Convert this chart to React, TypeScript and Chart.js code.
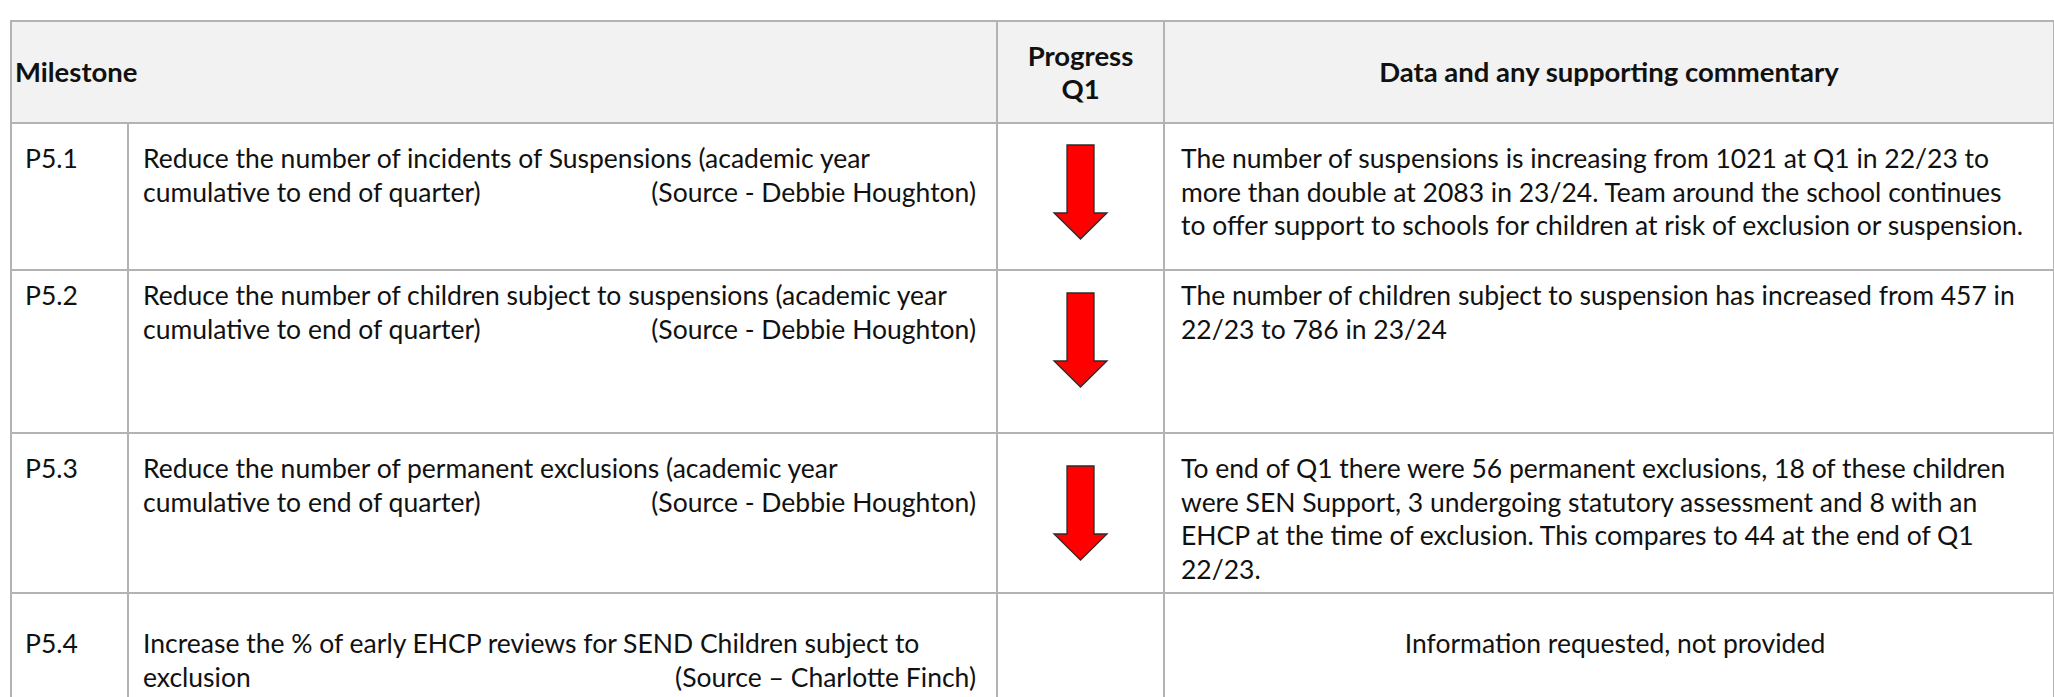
import React, { useEffect, useRef } from "react";
import { Chart, registerables } from "chart.js";

Chart.register(...registerables);

// ---- Data ----
const headerMilestone = "Milestone";
const headerProgress = ["Progress", "Q1"];
const headerCommentary = "Data and any supporting commentary";

const milestoneIds = ["P5.1", "P5.2", "P5.3", "P5.4"];
const milestoneLine1 = [
  "Reduce the number of incidents of Suspensions (academic year",
  "Reduce the number of children subject to suspensions (academic year",
  "Reduce the number of permanent exclusions (academic year",
  "Increase the % of early EHCP reviews for SEND Children subject to",
];
const milestoneLine2 = [
  "cumulative to end of quarter)",
  "cumulative to end of quarter)",
  "cumulative to end of quarter)",
  "exclusion",
];
const milestoneSources = [
  "(Source - Debbie Houghton)",
  "(Source - Debbie Houghton)",
  "(Source - Debbie Houghton)",
  "(Source \u2013 Charlotte Finch)",
];
// Progress direction for Q1: -1 = worsening (red down arrow), null = no rating
const progressQ1: (number | null)[] = [-1, -1, -1, null];

const commentary: string[][] = [
  [
    "The number of suspensions is increasing from 1021 at Q1 in 22/23 to",
    "more than double at 2083 in 23/24. Team around the school continues",
    "to offer support to schools for children at risk of exclusion or suspension.",
  ],
  [
    "The number of children subject to suspension has increased from 457 in",
    "22/23 to 786 in 23/24",
  ],
  [
    "To end of Q1 there were 56 permanent exclusions, 18 of these children",
    "were SEN Support, 3 undergoing statutory assessment and 8 with an",
    "EHCP at the time of exclusion. This compares to 44 at the end of Q1",
    "22/23.",
  ],
  ["Information requested, not provided"],
];
const commentaryAlign = ["left", "left", "left", "center"];

// ---- Styles ----
const FONT = "Lato, 'Noto Sans', sans-serif";
const FONT_SIZE = 26.5;
const HEAD_SIZE = 27.5;
const LINE_H = 33.5;
const BORDER = "2px solid #b3b3b3";
const headerHeight = 102;
const rowHeights = [147, 163, 160, 140];
const rowPadTop = [18, 8, 18, 33];
const arrowPadBottom = [20, 34, 5, 0];
const colWidths = [117, 869, 167, 890];

function makeArrow(): HTMLCanvasElement {
  const w = 57;
  const h = 98;
  const c = document.createElement("canvas");
  c.width = w;
  c.height = h;
  const ctx = c.getContext("2d")!;
  const cx = w / 2;
  const sh = 13.5;
  const hh = 26.5;
  const top = 2;
  const base = 70;
  const tip = 96;
  ctx.beginPath();
  ctx.moveTo(cx - sh, top);
  ctx.lineTo(cx + sh, top);
  ctx.lineTo(cx + sh, base);
  ctx.lineTo(cx + hh, base);
  ctx.lineTo(cx, tip);
  ctx.lineTo(cx - hh, base);
  ctx.lineTo(cx - sh, base);
  ctx.closePath();
  ctx.fillStyle = "#ff0000";
  ctx.fill();
  ctx.lineWidth = 1.3;
  ctx.strokeStyle = "#2b2b2b";
  ctx.stroke();
  return c;
}

function ProgressCell({ value, padBottom }: { value: number | null; padBottom: number }) {
  const ref = useRef<HTMLCanvasElement | null>(null);
  useEffect(() => {
    if (!ref.current || value === null) return;
    const arrow = makeArrow();
    const chart = new Chart(ref.current, {
      type: "scatter",
      data: {
        datasets: [
          {
            data: [{ x: 0, y: value }],
            pointStyle: arrow as any,
            pointRadius: 10,
            clip: false as any,
          },
        ],
      },
      options: {
        animation: false,
        responsive: true,
        maintainAspectRatio: false,
        events: [],
        layout: { padding: { top: 0, bottom: padBottom, left: 0, right: 6 } },
        plugins: { legend: { display: false }, tooltip: { enabled: false } },
        scales: {
          x: { display: false, min: -1, max: 1 },
          y: { display: false, min: -2, max: 0 },
        },
      },
    });
    return () => chart.destroy();
  }, [value, padBottom]);
  return (
    <div style={{ position: "absolute", left: 0, top: 0, right: 0, bottom: 0 }}>
      {value !== null && <canvas ref={ref} />}
    </div>
  );
}

const tdBase: React.CSSProperties = {
  border: BORDER,
  verticalAlign: "top",
  padding: "17px 10px 0 10px",
  fontSize: FONT_SIZE,
  lineHeight: `${LINE_H}px`,
  whiteSpace: "nowrap",
  overflow: "hidden",
  color: "#111",
};

const thBase: React.CSSProperties = {
  ...tdBase,
  verticalAlign: "middle",
  fontWeight: 700,
  fontSize: HEAD_SIZE,
  padding: 0,
};

export default function App() {
  return (
    <div
      style={{
        position: "absolute",
        left: 0,
        top: 0,
        width: 2054,
        height: 697,
        overflow: "hidden",
        background: "#fff",
        fontFamily: FONT,
      }}
    >
      <table
        style={{
          position: "absolute",
          left: 10,
          top: 20,
          width: colWidths.reduce((a, b) => a + b, 0),
          borderCollapse: "collapse",
          tableLayout: "fixed",
        }}
      >
        <colgroup>
          {colWidths.map((w, i) => (
            <col key={i} style={{ width: w }} />
          ))}
        </colgroup>
        <thead>
          <tr style={{ height: headerHeight, background: "#f2f2f2" }}>
            <th colSpan={2} style={{ ...thBase, textAlign: "left", paddingLeft: 3 }}>
              {headerMilestone}
            </th>
            <th style={{ ...thBase, textAlign: "center" }}>
              {headerProgress[0]}
              <br />
              {headerProgress[1]}
            </th>
            <th style={{ ...thBase, textAlign: "center" }}>{headerCommentary}</th>
          </tr>
        </thead>
        <tbody>
          {milestoneIds.map((id, i) => (
            <tr key={id} style={{ height: rowHeights[i] }}>
              <td style={{ ...tdBase, paddingTop: rowPadTop[i], paddingLeft: 13 }}>{id}</td>
              <td style={{ ...tdBase, paddingTop: rowPadTop[i], paddingLeft: 14, paddingRight: 20 }}>
                <div>{milestoneLine1[i]}</div>
                <div style={{ display: "flex", justifyContent: "space-between" }}>
                  <span>{milestoneLine2[i]}</span>
                  <span>{milestoneSources[i]}</span>
                </div>
              </td>
              <td style={{ ...tdBase, position: "relative", padding: 0 }}>
                <ProgressCell value={progressQ1[i]} padBottom={arrowPadBottom[i]} />
              </td>
              <td
                style={{
                  ...tdBase,
                  paddingTop: rowPadTop[i],
                  paddingLeft: 16,
                  paddingRight: 4,
                  textAlign: commentaryAlign[i] as any,
                }}
              >
                {commentary[i].map((line, k) => (
                  <div key={k}>{line}</div>
                ))}
              </td>
            </tr>
          ))}
        </tbody>
      </table>
    </div>
  );
}
